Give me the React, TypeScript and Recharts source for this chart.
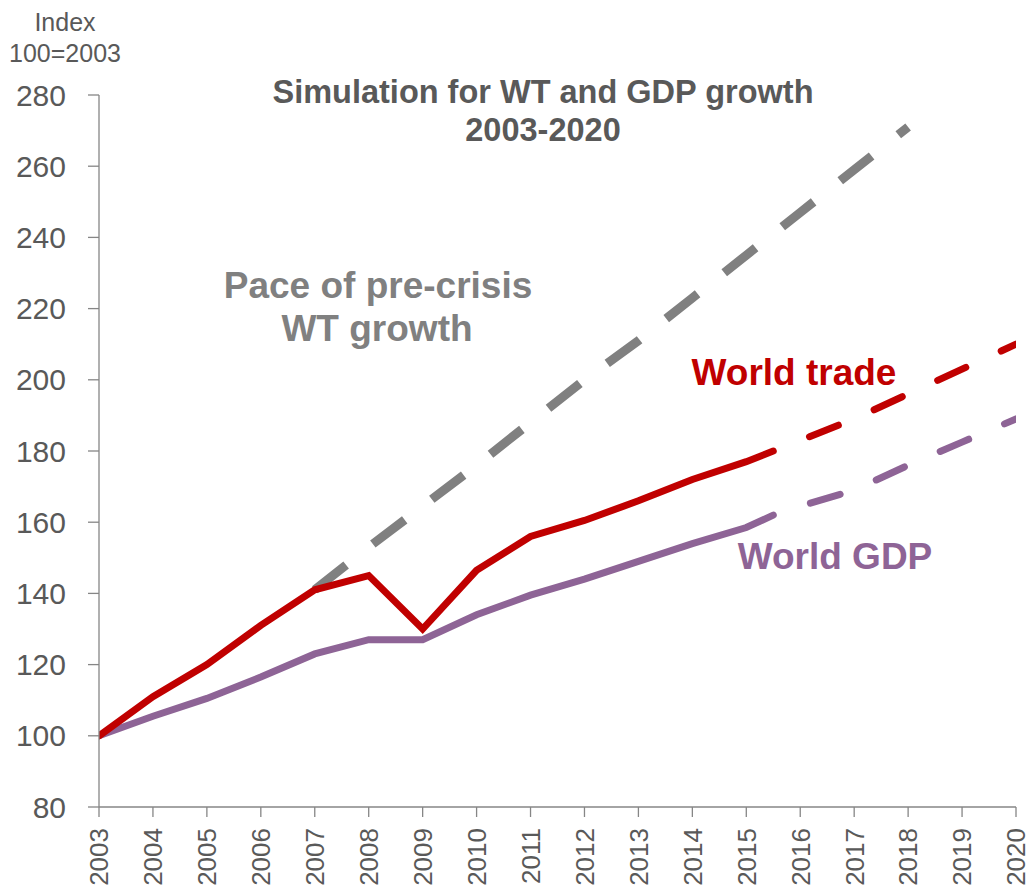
import { LineChart, Line, XAxis, YAxis } from "recharts";

const years = [2003, 2004, 2005, 2006, 2007, 2008, 2009, 2010, 2011, 2012, 2013, 2014, 2015, 2016, 2017, 2018, 2019, 2020];
const yTicks = [80, 100, 120, 140, 160, 180, 200, 220, 240, 260, 280];

// actual data runs to mid-2015, then the projection takes over
const actualYears = [2003, 2004, 2005, 2006, 2007, 2008, 2009, 2010, 2011, 2012, 2013, 2014, 2015, 2015.5];
const worldTrade = [100, 111, 120, 131, 141, 145, 130, 146.5, 156, 160.5, 166, 172, 177, 180];
const worldGdp = [100, 105.5, 110.5, 116.5, 123, 127, 127, 134, 139.5, 144, 149, 154, 158.5, 162];

const projYears = [2015.5, 2016, 2017, 2018, 2019, 2020];
const tradeProj = [180, 183, 189, 196, 203, 210];
const gdpProj = [162, 164.5, 169, 176, 182.5, 189];

const paceYears = [2007, 2008, 2009, 2010, 2011, 2012, 2013, 2014, 2015, 2016, 2017, 2018];
const preCrisisPace = [141, 153, 164.5, 176, 188, 200, 211, 223, 235, 247, 259, 271];

const toRows = (xs: number[], vs: number[]) => xs.map((year, i) => ({ year, v: vs[i] }));

const tradeRows = toRows(actualYears, worldTrade);
const gdpRows = toRows(actualYears, worldGdp);
const tradeProjRows = toRows(projYears, tradeProj);
const gdpProjRows = toRows(projYears, gdpProj);
const paceRows = toRows(paceYears, preCrisisPace);

const AXIS = "#868686";
const TEXT = "#595959";
const RED = "#C00000";
const PURPLE = "#8E6496";
const GREY = "#808080";
const FONT = '"Liberation Sans", Arial, sans-serif';

// projections start with a gap after the actual line ends
const css = `.proj .recharts-line-curve { stroke-dashoffset: 31px; }`;

const YearTick = ({ x, y, payload }: any) => (
  <text
    x={x}
    y={y}
    transform={`rotate(-90 ${x} ${y})`}
    textAnchor="end"
    dy="0.36em"
    fill={TEXT}
    fontSize={26}
    fontFamily={FONT}
  >
    {payload.value}
  </text>
);

const note = (top: number, left: number, color: string, size: number, text: string, bold = true) => (
  <div
    style={{
      position: "absolute",
      top,
      left,
      transform: "translate(-50%, -50%)",
      color,
      fontSize: size,
      fontWeight: bold ? 700 : 400,
      whiteSpace: "nowrap",
      lineHeight: 1,
    }}
  >
    {text}
  </div>
);

export default function App() {
  return (
    <div style={{ position: "absolute", left: 0, top: 0, width: 1029, height: 890, fontFamily: FONT, background: "#fff" }}>
      <style>{css}</style>
      <LineChart width={1029} height={890} margin={{ top: 95, right: 13, bottom: 0, left: 0 }}>
        <XAxis
          dataKey="year"
          type="number"
          domain={[2003, 2020]}
          ticks={years}
          interval={0}
          allowDataOverflow
          height={83}
          tickSize={10}
          tickMargin={11}
          stroke={AXIS}
          strokeWidth={1.3}
          tick={<YearTick />}
        />
        <YAxis
          domain={[80, 280]}
          ticks={yTicks}
          interval={0}
          width={99}
          tickSize={11}
          tickMargin={22}
          stroke={AXIS}
          strokeWidth={1.3}
          tick={{ fill: TEXT, fontSize: 30, fontFamily: FONT }}
        />
        <Line
          data={paceRows}
          dataKey="v"
          stroke={GREY}
          strokeWidth={9}
          strokeDasharray="40 34"
          dot={false}
          activeDot={false}
          isAnimationActive={false}
        />
        <Line
          data={gdpRows}
          dataKey="v"
          stroke={PURPLE}
          strokeWidth={7}
          strokeLinecap="round"
          dot={false}
          activeDot={false}
          isAnimationActive={false}
        />
        <Line
          className="proj"
          data={gdpProjRows}
          dataKey="v"
          stroke={PURPLE}
          strokeWidth={7}
          strokeLinecap="round"
          strokeDasharray="31 39"
          dot={false}
          activeDot={false}
          isAnimationActive={false}
        />
        <Line
          data={tradeRows}
          dataKey="v"
          stroke={RED}
          strokeWidth={7}
          strokeLinecap="round"
          dot={false}
          activeDot={false}
          isAnimationActive={false}
        />
        <Line
          className="proj"
          data={tradeProjRows}
          dataKey="v"
          stroke={RED}
          strokeWidth={7}
          strokeLinecap="round"
          strokeDasharray="31 39"
          dot={false}
          activeDot={false}
          isAnimationActive={false}
        />
      </LineChart>

      {note(22, 65, TEXT, 25, "Index", false)}
      {note(53, 65, TEXT, 25, "100=2003", false)}
      {note(92, 543, TEXT, 32.5, "Simulation for WT and GDP growth")}
      {note(130, 543, TEXT, 32.5, "2003-2020")}
      {note(285, 378, GREY, 37, "Pace of pre-crisis")}
      {note(328, 377, GREY, 37, "WT growth")}
      {note(372, 794, RED, 37, "World trade")}
      {note(556, 835, PURPLE, 37, "World GDP")}
    </div>
  );
}
